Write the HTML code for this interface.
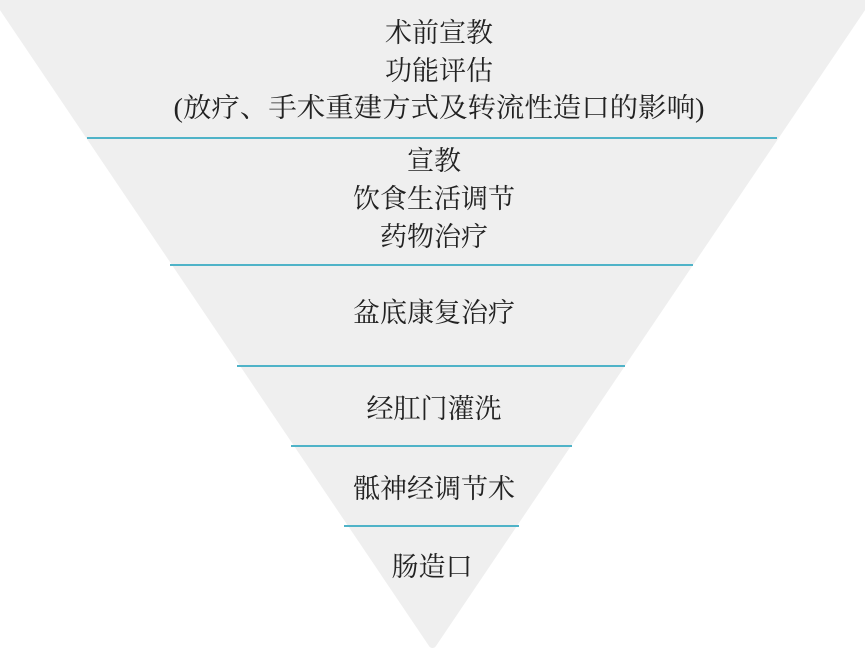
<!DOCTYPE html>
<html><head><meta charset="utf-8"><style>
html,body{margin:0;padding:0;background:#fff;}
svg{display:block;}
text{font-family:"Liberation Serif","Noto Serif CJK SC",serif;font-size:27px;fill:#222;text-anchor:middle;}
</style></head><body>
<svg width="865" height="651" viewBox="0 0 865 651">
<polygon points="-2,0 867,0 432.5,644" fill="#efefef" stroke="#efefef" stroke-width="8" stroke-linejoin="round"/>
<g stroke="#4fb3c8" stroke-width="2">
<line x1="87" y1="138" x2="777" y2="138"/>
<line x1="170" y1="265" x2="693" y2="265"/>
<line x1="237" y1="366" x2="625" y2="366"/>
<line x1="291" y1="446" x2="572" y2="446"/>
<line x1="344" y1="526" x2="519" y2="526"/>
</g>
<text x="439" y="42">术前宣教</text>
<text x="439" y="80">功能评估</text>
<text x="439" y="117" textLength="531" lengthAdjust="spacingAndGlyphs">(放疗、手术重建方式及转流性造口的影响)</text>
<text x="434" y="170">宣教</text>
<text x="434" y="208">饮食生活调节</text>
<text x="434" y="246">药物治疗</text>
<text x="434" y="322">盆底康复治疗</text>
<text x="434" y="418">经肛门灌洗</text>
<text x="434" y="498">骶神经调节术</text>
<text x="432" y="576">肠造口</text>
</svg>
</body></html>
